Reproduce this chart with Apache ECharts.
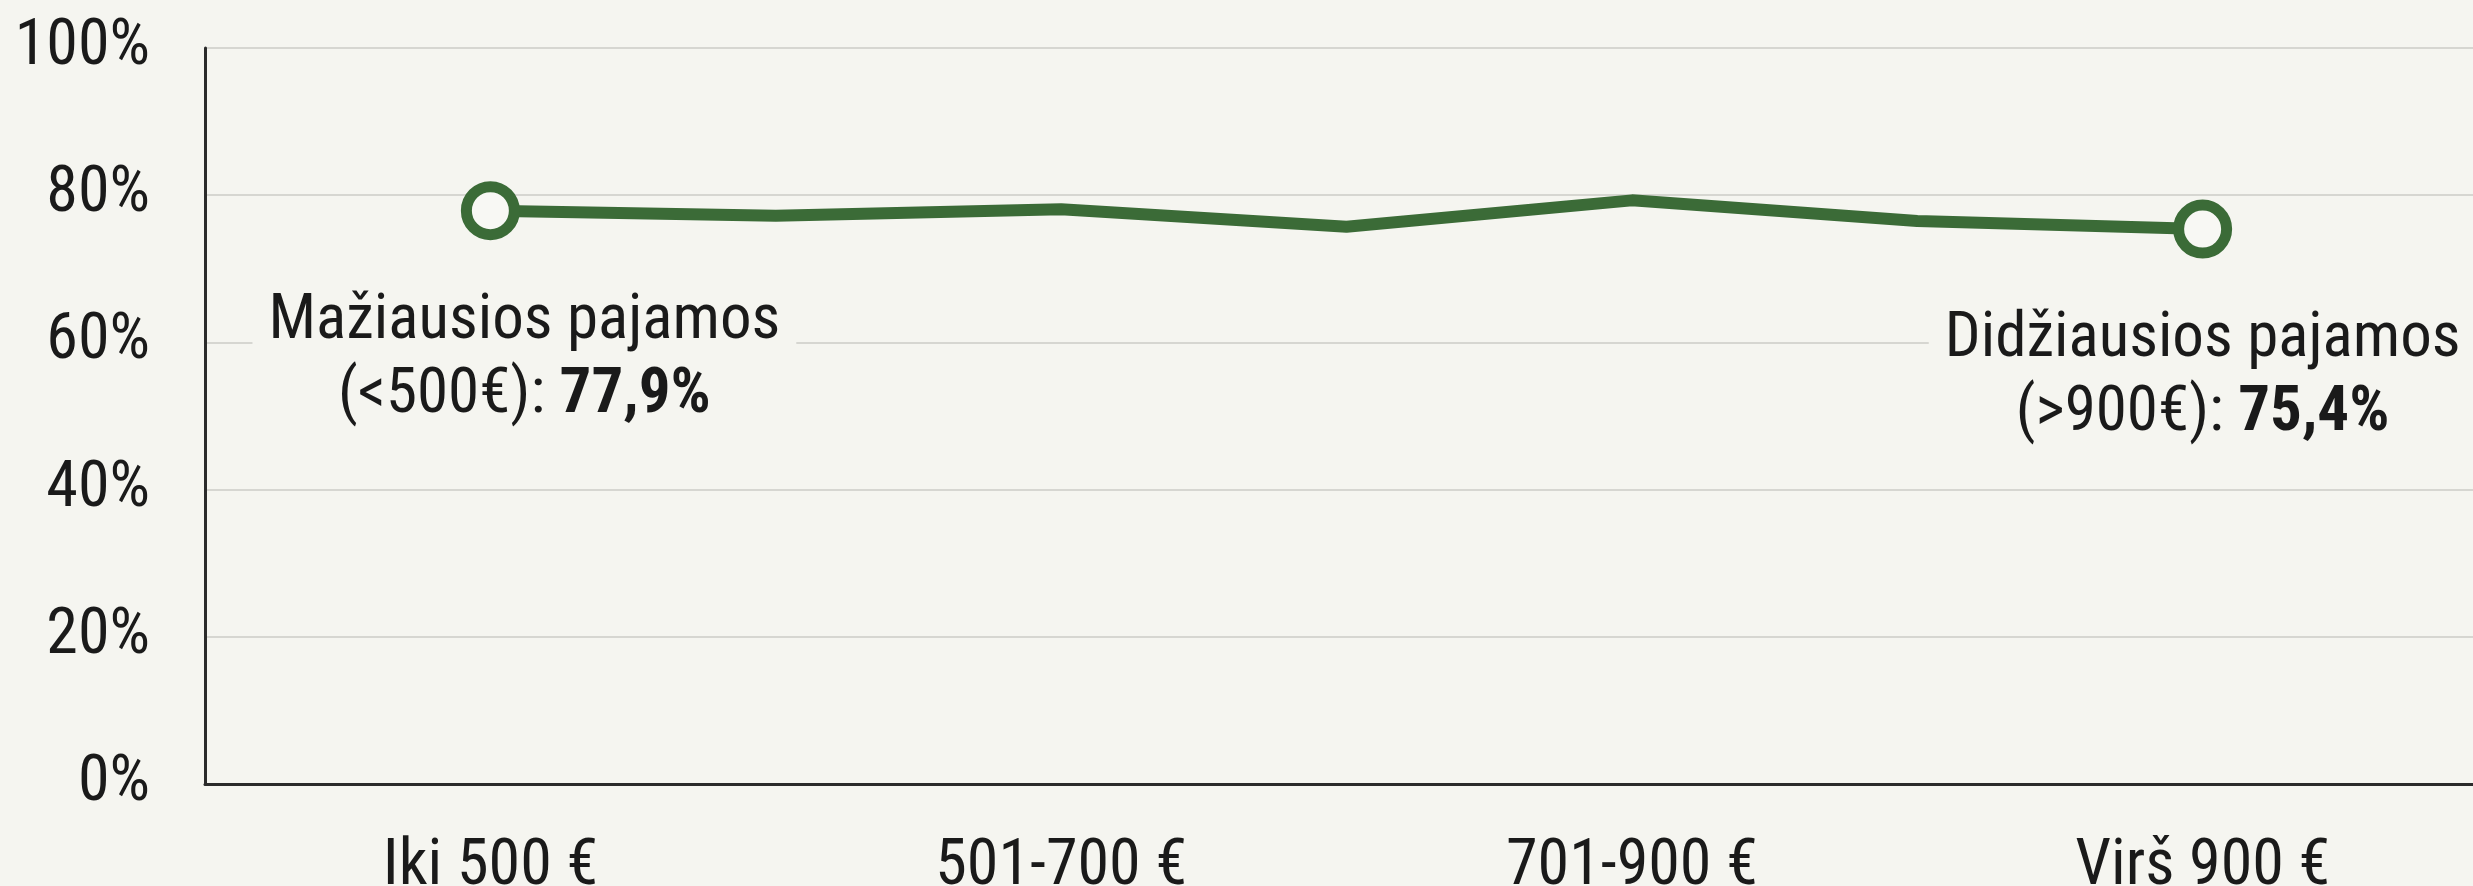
<!DOCTYPE html>
<html>
<head>
<meta charset="utf-8">
<script src="https://cdn.jsdelivr.net/npm/echarts@6/dist/echarts.min.js"></script>
<style>
  html, body { margin: 0; padding: 0; background: #f5f5f0; }
  #chart { width: 2473px; height: 886px; }
</style>
</head>
<body>
<div id="chart"></div>
<script>
// Data
var pointIndex = [0, 1, 2, 3, 4, 5, 6];
var shareValues = [77.9, 77.2, 78.1, 75.7, 79.3, 76.5, 75.4];
var xLabelPositions = [0, 2, 4, 6];
var xLabels = ['Iki 500 €', '501-700 €', '701-900 €', 'Virš 900 €'];
var annotationTitles = ['Mažiausios pajamos', 'Didžiausios pajamos'];
var annotationRanges = ['(<500€)', '(>900€)'];
var annotationValues = ['77,9%', '75,4%'];

var BG = '#f5f5f0';
var GREEN = '#3b6b37';
var FONT = '"Roboto Condensed", "Liberation Sans Narrow", Roboto, sans-serif';

function annotationLabel(i, offsetX) {
  return {
    show: true,
    position: 'bottom',
    distance: 43,
    offset: [offsetX, 0],
    formatter: annotationTitles[i] + '\n' + annotationRanges[i] + ': {b|' + annotationValues[i] + '}',
    fontFamily: FONT,
    fontSize: 63,
    lineHeight: 74,
    color: '#1a1a1a',
    align: 'center',
    backgroundColor: BG,
    padding: [2, 16],
    rich: {
      b: { fontFamily: FONT, fontSize: 63, lineHeight: 74, fontWeight: 'bold', color: '#1a1a1a' }
    }
  };
}

var seriesData = pointIndex.map(function (x, i) {
  var item = { value: [x, shareValues[i]] };
  if (i === 0) {
    item.label = annotationLabel(0, 34);
  } else if (i === pointIndex.length - 1) {
    item.label = annotationLabel(1, 0);
  } else {
    item.symbol = 'none';
  }
  return item;
});

var chart = echarts.init(document.getElementById('chart'), null, { renderer: 'canvas' });
chart.setOption({
  backgroundColor: BG,
  animation: false,
  grid: { left: 205, top: 48, height: 736, width: 2283, containLabel: false, outerBoundsMode: 'none' },
  xAxis: {
    type: 'value',
    min: -1,
    max: 7,
    splitLine: { show: false },
    axisTick: { show: false },
    axisLine: { show: true, onZero: false, lineStyle: { color: '#2b2b2b', width: 3 } },
    axisLabel: {
      customValues: xLabelPositions,
      formatter: function (v) {
        var k = xLabelPositions.indexOf(v);
        return k >= 0 ? xLabels[k] : '';
      },
      margin: 52,
      fontFamily: FONT,
      fontSize: 64,
      color: '#1a1a1a'
    }
  },
  yAxis: {
    type: 'value',
    min: 0,
    max: 100,
    interval: 20,
    axisTick: { show: false },
    axisLine: { show: true, onZero: false, lineStyle: { color: '#2b2b2b', width: 3 } },
    splitLine: { show: true, lineStyle: { color: '#d6d6d1', width: 2 } },
    axisLabel: {
      formatter: function (v) { return v + '%'; },
      margin: 55,
      fontFamily: FONT,
      fontSize: 64,
      color: '#1a1a1a'
    }
  },
  series: [{
    type: 'line',
    data: seriesData,
    symbol: 'circle',
    symbolSize: 48,
    showSymbol: true,
    lineStyle: { color: GREEN, width: 12 },
    itemStyle: { color: '#f8f8f4', borderColor: GREEN, borderWidth: 11 },
    z: 3
  }]
});
</script>
</body>
</html>
